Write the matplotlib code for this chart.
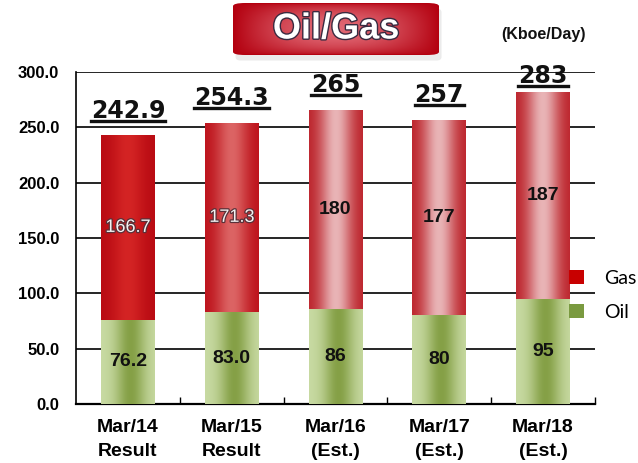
import numpy as np
import matplotlib
matplotlib.use("Agg")
import matplotlib.pyplot as plt
from matplotlib.colors import to_rgb
from matplotlib.patches import FancyBboxPatch, Patch
from matplotlib.lines import Line2D
import matplotlib.patheffects as pe

# ---------------- data ----------------
categories = ["Mar/14\nResult", "Mar/15\nResult", "Mar/16\n(Est.)", "Mar/17\n(Est.)", "Mar/18\n(Est.)"]
oil = [76.2, 83.0, 86, 80, 95]
gas = [166.7, 171.3, 180, 177, 187]
oil_labels = ["76.2", "83.0", "86", "80", "95"]
gas_labels = ["166.7", "171.3", "180", "177", "187"]
total_labels = ["242.9", "254.3", "265", "257", "283"]
y_ticks = [0, 50, 100, 150, 200, 250, 300]
y_tick_labels = ["0.0", "50.0", "100.0", "150.0", "200.0", "250.0", "300.0"]
title_text = "Oil/Gas"
unit_text = "(Kboe/Day)"
legend_labels = ["Gas", "Oil"]

# ---------------- styles ----------------
gas_edge = ["#b80a12", "#bc1019", "#bb2028", "#bb2028", "#bb2028"]
gas_center = ["#d42424", "#dc6464", "#e9b4b6", "#e9b4b6", "#e9b4b6"]
oil_edge = "#c9dba4"
oil_center = "#85a046"
gas_label_light = [True, True, False, False, False]
total_offsets = [9, 9, 9, 9, 2.5]  # points above bar top

fig = plt.figure(figsize=(6.38, 4.63), dpi=100)
ax = fig.add_axes([76 / 638, 1 - 404 / 463, (595 - 76) / 638, (404 - 72) / 463])

x = np.arange(len(categories))
width = 0.52

oil_bars = ax.bar(x, oil, width, color=oil_center, zorder=3, linewidth=0)
gas_bars = ax.bar(x, gas, width, bottom=oil, color=gas_edge, zorder=3, linewidth=0)


def gradient(edge, center, c=0.5, s=0.3, n=128):
    t = np.linspace(0, 1, n)
    w = np.exp(-((t - c) / s) ** 2)
    e = np.array(to_rgb(edge))
    m = np.array(to_rgb(center))
    cols = e[None, :] * (1 - w[:, None]) + m[None, :] * w[:, None]
    return cols[None, :, :]


for i, b in enumerate(oil_bars):
    img = gradient(oil_edge, oil_center, c=0.55, s=0.28)
    im = ax.imshow(img, extent=(b.get_x(), b.get_x() + b.get_width(), b.get_y(), b.get_y() + b.get_height()),
                   aspect="auto", zorder=3.5, interpolation="bilinear")
    im.set_clip_path(b)
for i, b in enumerate(gas_bars):
    img = gradient(gas_edge[i], gas_center[i], c=0.5, s=0.3)
    im = ax.imshow(img, extent=(b.get_x(), b.get_x() + b.get_width(), b.get_y(), b.get_y() + b.get_height()),
                   aspect="auto", zorder=3.5, interpolation="bilinear")
    im.set_clip_path(b)

ax.set_xlim(-0.5, len(categories) - 0.5)
ax.set_ylim(0, 300)

# grid & spines
ax.set_yticks(y_ticks)
ax.set_yticklabels(y_tick_labels, fontfamily="Liberation Sans", fontweight="bold", fontsize=12)
ax.yaxis.grid(True, color="black", linewidth=1.2, zorder=1)
ax.set_axisbelow(True)
ax.tick_params(axis="y", length=0, pad=12)
ax.set_xticks(x)
ax.set_xticklabels(categories, fontfamily="Liberation Sans", fontweight="bold", fontsize=14, linespacing=1.5)
ax.tick_params(axis="x", which="major", length=0, pad=11)
ax.set_xticks(list(x + 0.5), minor=True)
ax.tick_params(axis="x", which="minor", direction="in", length=5, width=1, color="black")
for s in ["top", "right"]:
    ax.spines[s].set_visible(False)
ax.spines["left"].set_linewidth(1.2)
ax.spines["bottom"].set_linewidth(1.6)

# inner labels
for i in range(len(categories)):
    ax.text(x[i], oil[i] / 2, oil_labels[i], ha="center", va="center", fontsize=14,
            fontfamily="Liberation Sans", fontweight="bold", color="#111111", zorder=5)
    gy = oil[i] + gas[i] / 2
    if gas_label_light[i]:
        ax.text(x[i], gy, gas_labels[i], ha="center", va="center", fontsize=13,
                fontfamily="Liberation Sans", color="#f2f2f2", zorder=5,
                path_effects=[pe.withStroke(linewidth=1.8, foreground="#5a3038")])
    else:
        ax.text(x[i], gy, gas_labels[i], ha="center", va="center", fontsize=14,
                fontfamily="Liberation Sans", fontweight="bold", color="#111111", zorder=5)

# totals
total_texts = []
for i in range(len(categories)):
    t = ax.annotate(total_labels[i], xy=(x[i], oil[i] + gas[i]), xytext=(0, total_offsets[i]),
                    textcoords="offset points", ha="center", va="bottom", fontsize=17,
                    fontfamily="DejaVu Sans", fontweight="bold", color="#111111", zorder=6,
                    annotation_clip=False)
    total_texts.append(t)

# legend
handles = [Patch(facecolor="#c80000", edgecolor="none"), Patch(facecolor="#7a9a40", edgecolor="none")]
leg = fig.legend(handles, legend_labels, loc="upper left", bbox_to_anchor=(569 / 638, 1 - 270 / 463),
                 bbox_transform=fig.transFigure, frameon=False, borderpad=0, borderaxespad=0,
                 handlelength=0.75, handleheight=0.7, handletextpad=1.05, labelspacing=0.86,
                 prop={"family": "Lato", "size": 14})

# unit text
fig.text(543 / 638, 1 - 34 / 463, unit_text, ha="center", va="center", fontsize=11.5,
         fontfamily="Liberation Sans", fontweight="bold", color="#111111")

# title box
tx0, ty0, tw, th = 233 / 638, 1 - 55 / 463, 206 / 638, 52 / 463
shadow = FancyBboxPatch((tx0 + 0.004, ty0 - 0.012), tw, th, boxstyle="round,pad=0,rounding_size=0.008",
                        transform=fig.transFigure, facecolor="#d8d8d8", edgecolor="none", alpha=0.5, zorder=0)
fig.add_artist(shadow)
tax = fig.add_axes([tx0, ty0, tw, th])
tax.set_axis_off()
gx = np.linspace(0, 1, 200)
gy = np.linspace(0, 1, 60)
GX, GY = np.meshgrid(gx, gy)
w = (np.sin(np.pi * GX) ** 0.9) * (np.sin(np.pi * GY) ** 0.5)
e = np.array(to_rgb("#b3000f"))
m = np.array(to_rgb("#e06672"))
timg = e[None, None, :] * (1 - w[..., None]) + m[None, None, :] * w[..., None]
tim = tax.imshow(timg, extent=(0, 1, 0, 1), aspect="auto", interpolation="bilinear")
box = FancyBboxPatch((0, 0), 1, 1, boxstyle="round,pad=0,rounding_size=0.06", transform=tax.transAxes,
                     facecolor="none", edgecolor="none")
tax.add_patch(box)
tim.set_clip_path(box)
tax.set_xlim(0, 1)
tax.set_ylim(0, 1)
tax.text(0.5, 0.5, title_text, ha="center", va="center", fontsize=26, fontfamily="Liberation Sans",
         fontweight="bold", color="white", transform=tax.transAxes,
         path_effects=[pe.withStroke(linewidth=2, foreground="#3a2a40")])

# underline totals
fig.canvas.draw()
r = fig.canvas.get_renderer()
inv = fig.transFigure.inverted()
for t in total_texts:
    bb = t.get_window_extent(r)
    (x0, y0), (x1, _) = inv.transform([(bb.x0, bb.y0 + 2), (bb.x1, bb.y0)])
    fig.add_artist(Line2D([x0, x1], [y0, y0], transform=fig.transFigure, color="#111111", lw=2.4, zorder=6))

fig.savefig("out.png", dpi=100)
